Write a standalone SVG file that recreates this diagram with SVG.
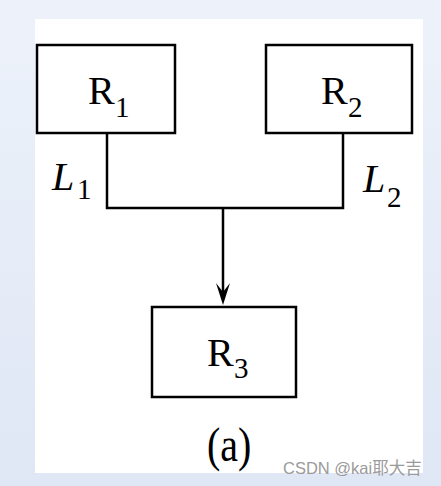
<svg xmlns="http://www.w3.org/2000/svg" width="441" height="486" viewBox="0 0 441 486">
<defs>
<linearGradient id="bg" x1="0" y1="0" x2="0" y2="1">
<stop offset="0" stop-color="#edf2fa"/>
<stop offset="1" stop-color="#dfe7f5"/>
</linearGradient>
<style>
.box{fill:#fff;stroke:#000;stroke-width:2.5}
.ln{fill:none;stroke:#000;stroke-width:2.5}
.t{font-family:"Liberation Serif","Times New Roman",serif;font-size:40px;fill:#000}
.s{font-size:29px;font-style:normal}
.i{font-style:italic}
.wm{font-family:"Liberation Sans","Noto Sans CJK SC",sans-serif;font-size:16.5px;fill:#9a9a9a}
</style>
</defs>
<rect x="0" y="0" width="441" height="486" fill="url(#bg)"/>
<rect x="35" y="19" width="388" height="454" fill="#fff"/>
<g id="connectors">
<polyline class="ln" points="107,133 107,208 343,208 343,133"/>
<line class="ln" x1="223" y1="208" x2="223" y2="292"/>
<polygon points="223,305 216,283 223,292 230,283" fill="#000"/>
</g>
<g id="R1">
<rect class="box" x="37" y="45" width="138" height="88"/>
<text class="t" x="88" y="104">R<tspan class="s" x="115" y="117">1</tspan></text>
</g>
<g id="R2">
<rect class="box" x="266" y="45" width="146" height="88"/>
<text class="t" x="321" y="104">R<tspan class="s" x="348" y="117">2</tspan></text>
</g>
<g id="R3">
<rect class="box" x="152" y="307" width="144" height="90"/>
<text class="t" x="207" y="366">R<tspan class="s" x="234" y="378">3</tspan></text>
</g>
<g id="labels">
<text class="t i" x="52" y="190">L<tspan class="s" font-size="27" x="77" y="199">1</tspan></text>
<text class="t i" x="363" y="192">L<tspan class="s" font-size="28" x="387" y="207">2</tspan></text>
<text class="t" font-size="38" transform="translate(207,461) scale(1,1.22)">(a)</text>
</g>
<text class="wm" x="283" y="474">CSDN @kai耶大吉</text>
</svg>
